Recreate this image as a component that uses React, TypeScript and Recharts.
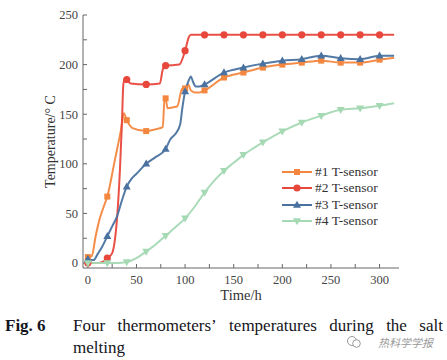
import React from 'react';
import { LineChart, Line, XAxis, YAxis } from 'recharts';

// ---- data ----
const s1Time = [0, 4, 8, 12, 16, 20, 28, 34, 37, 40, 46, 60, 70, 77, 79, 80, 82, 88, 92, 97, 100, 103, 106, 110, 115, 120, 140, 160, 180, 200, 220, 240, 260, 280, 300, 315];
const s1Temp = [6, 7, 27, 44, 56, 67, 105, 134, 151, 144, 136, 133, 135, 137, 167, 166, 156, 157, 158, 176, 176, 180, 174, 172, 172, 174, 187, 192, 197, 200, 202, 204, 202, 202, 205, 207];

const s2Time = [0, 10, 15, 20, 25, 27, 30, 33, 35, 36.5, 38, 40, 44, 60, 74, 77, 78.5, 80, 94, 100, 104, 106, 120, 140, 160, 180, 200, 220, 240, 260, 280, 300, 315];
const s2Temp = [0, 0, 1, 5, 10, 18, 45, 94, 140, 180, 186, 185, 181, 180, 181, 195, 199, 199, 200, 214, 228, 230, 230, 230, 230, 230, 230, 230, 230, 230, 230, 230, 230];

const s3Time = [0, 3, 6, 10, 15, 20, 25, 30, 35, 40, 45, 50, 60, 70, 80, 85, 90, 95, 97, 100, 103, 106, 108, 111, 115, 120, 140, 160, 180, 200, 220, 240, 260, 280, 300, 315];
const s3Temp = [4, 3, 3, 9, 17, 27, 37, 47, 63, 77, 85, 90, 100, 107, 115, 125, 130, 140, 155, 173, 182, 188, 183, 178, 178, 180, 192, 197, 201, 204, 205.5, 209, 206.5, 205.5, 209, 209];

const s4Time = [0, 20, 30, 40, 50, 60, 70, 80, 90, 100, 110, 120, 130, 140, 150, 160, 170, 180, 200, 220, 240, 260, 280, 300, 315];
const s4Temp = [0, 0, 0, 1, 5, 11.7, 19, 27.5, 36, 45, 57, 71, 83, 93, 101, 109, 115.5, 121.6, 132.7, 141.7, 148.5, 154.5, 156, 158.6, 161];

const markerTimes = [0, 20, 40, 60, 80, 100, 120, 140, 160, 180, 200, 220, 240, 260, 280, 300];
const seriesNames = ['#1 T-sensor', '#2 T-sensor', '#3 T-sensor', '#4 T-sensor'];
const xTicks = [0, 25, 50, 75, 100, 125, 150, 175, 200, 225, 250, 275, 300];
const yTicks = [0, 25, 50, 75, 100, 125, 150, 175, 200, 225, 250];

const COLORS = ['#f3873f', '#e8473c', '#4a72a0', '#a5d9b4'];
const SHAPES = ['square', 'circle', 'triangle', 'triangleDown'];

const zip = (t: number[], v: number[]) => t.map((tt, i) => ({ t: tt, v: v[i] }));
const series = [zip(s1Time, s1Temp), zip(s2Time, s2Temp), zip(s3Time, s3Temp), zip(s4Time, s4Temp)];

const SERIF = '"Liberation Serif", "Times New Roman", serif';

function Marker({ shape, cx, cy, color }: { shape: string; cx: number; cy: number; color: string }) {
  if (shape === 'square') return <rect x={cx - 3} y={cy - 3} width={6} height={6} fill={color} />;
  if (shape === 'circle') return <circle cx={cx} cy={cy} r={3.6} fill={color} />;
  if (shape === 'triangle')
    return <polygon points={`${cx},${cy - 4.2} ${cx - 4},${cy + 2.8} ${cx + 4},${cy + 2.8}`} fill={color} />;
  return <polygon points={`${cx},${cy + 4.2} ${cx - 4},${cy - 2.8} ${cx + 4},${cy - 2.8}`} fill={color} />;
}

const makeDot = (shape: string, color: string) => (props: any) => {
  const { cx, cy, payload, index } = props;
  if (!markerTimes.includes(payload.t)) return <g key={`e${index}`} />;
  return (
    <g key={`d${index}`}>
      <Marker shape={shape} cx={cx} cy={cy} color={color} />
    </g>
  );
};

const fmtX = (v: number) => (v % 50 === 0 ? String(v) : '');
const fmtY = (v: number) => (v % 50 === 0 ? String(v) : '');

const tickStyle = { fontFamily: SERIF, fontSize: 12.5, fill: '#444' };
const axisColor = '#666';

export default function App() {
  return (
    <div style={{ position: 'absolute', left: 0, top: 0, width: 447, height: 360, background: '#fff', overflow: 'hidden', fontFamily: SERIF }}>
      <LineChart width={447} height={310} margin={{ top: 15, right: 48, bottom: 12, left: 38 }} style={{ fontFamily: SERIF }}>
        <XAxis
          xAxisId={0}
          dataKey="t"
          type="number"
          domain={[-5, 320]}
          allowDataOverflow
          ticks={xTicks}
          tickFormatter={fmtX}
          tickSize={-4}
          tickMargin={11}
          tick={tickStyle}
          stroke={axisColor}
          height={30}
          interval={0}
          label={(p: any) => {
            const vb = p.viewBox;
            return (
              <text x={vb.x + vb.width / 2} y={vb.y + 32} textAnchor="middle" fontFamily={SERIF} fontSize={14.5} fill="#333">
                Time/h
              </text>
            );
          }}
        />
        <XAxis
          xAxisId="top"
          orientation="top"
          type="number"
          domain={[-5, 320]}
          allowDataOverflow
          ticks={xTicks}
          tick={false}
          tickSize={-4}
          stroke={axisColor}
          height={0}
          interval={0}
        />
        <YAxis
          yAxisId={0}
          type="number"
          domain={[-5, 250]}
          allowDataOverflow
          ticks={yTicks}
          tickFormatter={fmtY}
          tickSize={-4}
          tickMargin={9}
          tick={tickStyle}
          stroke={axisColor}
          width={45}
          interval={0}
          label={(p: any) => {
            const vb = p.viewBox;
            const x = vb.x + 12;
            const y = vb.y + vb.height / 2;
            return (
              <text x={x} y={y} transform={`rotate(-90 ${x} ${y})`} textAnchor="middle" dominantBaseline="central" fontFamily={SERIF} fontSize={14} fill="#333">
                Temperature/° C
              </text>
            );
          }}
        />
        <YAxis
          yAxisId="right"
          orientation="right"
          type="number"
          domain={[-5, 250]}
          allowDataOverflow
          ticks={yTicks}
          tick={false}
          tickSize={-4}
          stroke={axisColor}
          width={0}
          interval={0}
        />
        {series.map((d, i) => (
          <Line
            key={seriesNames[i]}
            data={d}
            dataKey="v"
            name={seriesNames[i]}
            type="monotone"
            stroke={COLORS[i]}
            strokeWidth={2}
            strokeOpacity={0.95}
            dot={makeDot(SHAPES[i], COLORS[i])}
            activeDot={false}
            isAnimationActive={false}
          />
        ))}
      </LineChart>

      {/* legend */}
      <div style={{ position: 'absolute', left: 280, top: 164 }}>
        {seriesNames.map((n, i) => (
          <div key={n} style={{ display: 'flex', alignItems: 'center', height: 16.3 }}>
            <svg width={34} height={12} style={{ display: 'block' }}>
              <line x1={2} y1={6} x2={32} y2={6} stroke={COLORS[i]} strokeWidth={2} />
              <Marker shape={SHAPES[i]} cx={17} cy={6} color={COLORS[i]} />
            </svg>
            <span style={{ fontFamily: SERIF, fontSize: 13.5, color: '#333', marginLeft: 1, lineHeight: '16px' }}>{n}</span>
          </div>
        ))}
      </div>

      {/* caption */}
      <div style={{ position: 'absolute', left: 5, top: 315, fontFamily: SERIF, fontSize: 17, color: '#141420', lineHeight: '22px' }}>
        <span style={{ fontWeight: 'bold' }}>Fig. 6</span>
      </div>
      <div style={{ position: 'absolute', left: 73, top: 315, width: 370, fontFamily: SERIF, fontSize: 17, color: '#141420', lineHeight: '22px' }}>
        <div style={{ display: 'flex', justifyContent: 'space-between' }}>
          {['Four', 'thermometers’', 'temperatures', 'during', 'the', 'salt'].map((w) => (
            <span key={w}>{w}</span>
          ))}
        </div>
        <div>melting</div>
      </div>

      {/* watermark */}
      <div style={{ position: 'absolute', left: 346, top: 334, display: 'flex', alignItems: 'center' }}>
        <svg width={16} height={14} style={{ display: 'block' }}>
          <circle cx={6} cy={6} r={4.5} fill="none" stroke="#999" strokeWidth={1} />
          <circle cx={10.5} cy={8.5} r={3.8} fill="#fff" stroke="#999" strokeWidth={1} />
        </svg>
        <span style={{ marginLeft: 16, fontFamily: '"Noto Sans CJK SC", sans-serif', fontSize: 11, color: '#999', fontStyle: 'italic' }}>热科学学报</span>
      </div>
    </div>
  );
}
